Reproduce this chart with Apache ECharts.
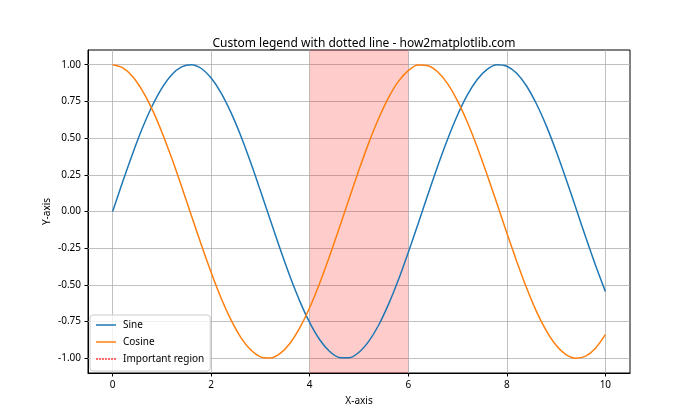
<!DOCTYPE html>
<html><head><meta charset="utf-8">
<script src="https://cdn.jsdelivr.net/npm/echarts@6/dist/echarts.min.js"></script>
<style>html,body{margin:0;padding:0;background:#fff}#c{width:700px;height:420px}</style>
</head><body><div id="c"></div>
<script>
const xValues = [0,0.2,0.4,0.6,0.8,1.0,1.2,1.4,1.6,1.8,2.0,2.2,2.4,2.6,2.8,3.0,3.2,3.4,3.6,3.8,4.0,4.2,4.4,4.6,4.8,5.0,5.2,5.4,5.6,5.8,6.0,6.2,6.4,6.6,6.8,7.0,7.2,7.4,7.6,7.8,8.0,8.2,8.4,8.6,8.8,9.0,9.2,9.4,9.6,9.8,10.0];
const sineValues = [0,0.199,0.389,0.565,0.717,0.841,0.932,0.985,1.000,0.974,0.909,0.808,0.675,0.516,0.335,0.141,-0.058,-0.256,-0.443,-0.612,-0.757,-0.872,-0.952,-0.994,-0.996,-0.959,-0.883,-0.773,-0.631,-0.465,-0.279,-0.083,0.117,0.312,0.494,0.657,0.794,0.899,0.968,0.999,0.989,0.941,0.855,0.734,0.585,0.412,0.223,0.025,-0.174,-0.366,-0.544];
const cosineValues = [1.000,0.980,0.921,0.825,0.697,0.540,0.362,0.170,-0.029,-0.227,-0.416,-0.589,-0.737,-0.857,-0.942,-0.990,-0.998,-0.967,-0.897,-0.791,-0.654,-0.490,-0.307,-0.112,0.087,0.284,0.469,0.635,0.776,0.886,0.960,0.997,0.993,0.950,0.869,0.754,0.608,0.438,0.250,0.054,-0.146,-0.339,-0.520,-0.680,-0.811,-0.911,-0.975,-0.999,-0.985,-0.931,-0.839];
const regionStart = 4;
const regionEnd = 6;
const xTicks = [0,2,4,6,8,10];
const yTicks = [-1.00,-0.75,-0.50,-0.25,0.00,0.25,0.50,0.75,1.00];
const seriesNames = ['Sine','Cosine','Important region'];

const FONT = 'Noto Sans';
const chart = echarts.init(document.getElementById('c'));
const pair = (xs, ys) => xs.map((x,i)=>[x, ys[i]]);
const gridLineData = xTicks.map(v=>({xAxis:v})).concat(yTicks.map(v=>({yAxis:v})));
const solidIcon = 'path://M0,0h20v1.5h-20z';
let dots = '';
for (let i = 0; i < 7; i++) dots += 'M' + (i*3) + ',0h1.5v1.5h-1.5z';
const dottedIcon = 'path://' + dots;

chart.setOption({
  animation:false,
  textStyle:{fontFamily:FONT},
  title:{text:'Custom legend with dotted line - how2matplotlib.com',left:359,textAlign:'center',top:33,
    textStyle:{fontFamily:FONT,fontSize:12,fontWeight:'normal',color:'#000'}},
  grid:{left:88,right:70,top:50,bottom:47,show:true,borderColor:'#000',borderWidth:1,backgroundColor:'transparent'},
  legend:{data:[{name:seriesNames[0],icon:solidIcon},{name:seriesNames[1],icon:solidIcon},{name:seriesNames[2],icon:dottedIcon}],
    orient:'vertical',left:90,top:315,padding:[3,6,5,6],itemGap:3,itemWidth:20,itemHeight:1.5,
    backgroundColor:'rgba(255,255,255,0.8)',borderColor:'#cccccc',borderWidth:1,borderRadius:3,
    textStyle:{fontFamily:FONT,fontSize:10,lineHeight:14,color:'#000',padding:[0,0,0,2]}},
  xAxis:{type:'value',min:-0.5,max:10.5,name:'X-axis',nameLocation:'middle',nameGap:23,nameMoveOverlap:false,
    nameTextStyle:{fontFamily:FONT,fontSize:10,color:'#000'},
    axisLine:{show:true,onZero:false,lineStyle:{color:'#000',width:1}},
    axisTick:{show:true,length:3.5,customValues:xTicks,lineStyle:{color:'#000'}},
    axisLabel:{customValues:xTicks,margin:7,fontFamily:FONT,fontSize:10,color:'#000'},
    splitLine:{show:false}},
  yAxis:{type:'value',min:-1.1,max:1.1,name:'Y-axis',nameLocation:'middle',nameGap:36,nameMoveOverlap:false,
    nameTextStyle:{fontFamily:FONT,fontSize:10,color:'#000'},
    axisLine:{show:true,onZero:false,lineStyle:{color:'#000',width:1}},
    axisTick:{show:true,length:3.5,customValues:yTicks,lineStyle:{color:'#000'}},
    axisLabel:{customValues:yTicks,margin:7,fontFamily:FONT,fontSize:10,color:'#000',formatter:v=>v.toFixed(2)},
    splitLine:{show:false}},
  series:[
    {name:'_grid',type:'line',data:[],silent:true,z:1,
      markLine:{silent:true,symbol:'none',z:1,label:{show:false},lineStyle:{color:'#b0b0b0',width:0.8,type:'solid'},data:gridLineData}},
    {name:'Sine',type:'line',data:pair(xValues,sineValues),symbol:'none',smooth:0.3,z:4,lineStyle:{color:'#1f77b4',width:1.5},itemStyle:{color:'#1f77b4'}},
    {name:'Cosine',type:'line',data:pair(xValues,cosineValues),symbol:'none',smooth:0.3,z:4,lineStyle:{color:'#ff7f0e',width:1.5},itemStyle:{color:'#ff7f0e'}},
    {name:'Important region',type:'line',data:[],symbol:'none',z:2,lineStyle:{color:'#ff0000',width:1.5,type:'dotted'},itemStyle:{color:'#ff0000'},
      markArea:{silent:true,z:2,itemStyle:{color:'rgba(255,0,0,0.2)'},data:[[{xAxis:regionStart},{xAxis:regionEnd}]]}}
  ]
});
</script></body></html>
